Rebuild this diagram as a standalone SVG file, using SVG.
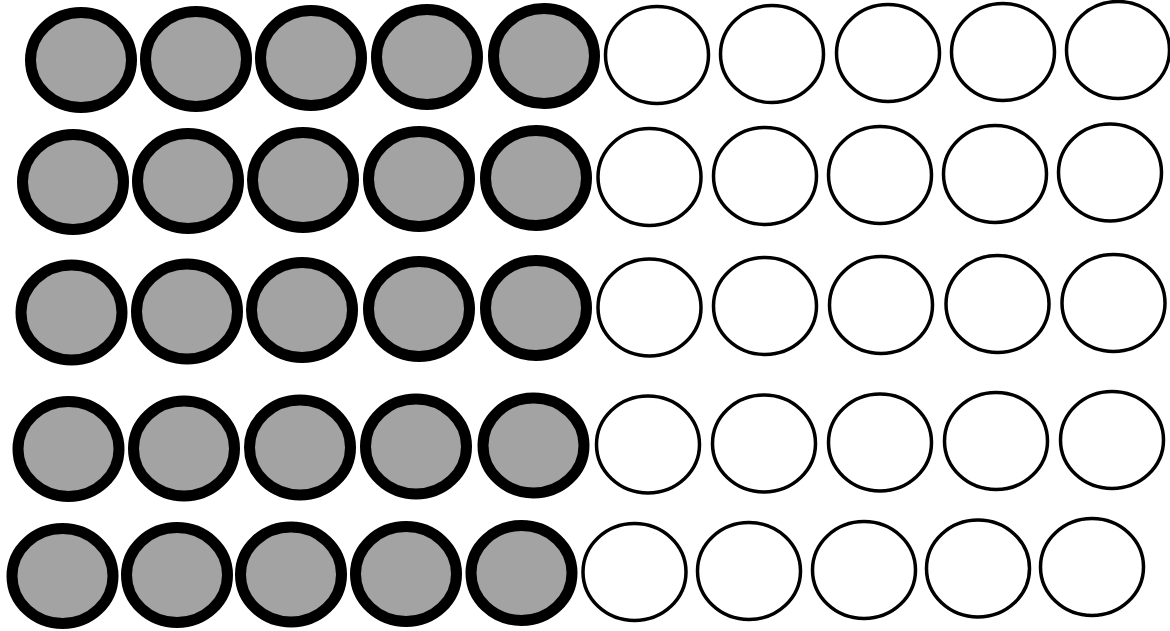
<svg xmlns="http://www.w3.org/2000/svg" width="1170" height="631" viewBox="0 0 1170 631">
<style>
.g{fill:#a3a3a3;stroke:#000;stroke-width:11}
.w{fill:#fff;stroke:#000;stroke-width:3.5}
</style>
<defs>
<ellipse id="gc" class="g" cx="0" cy="0" rx="50.5" ry="47.5"/>
<ellipse id="wc" class="w" cx="0" cy="0" rx="51.5" ry="48.5"/>
</defs>
<rect width="1170" height="631" fill="#fff"/>
<g id="row1">
<g id="r1c1"><use href="#gc" x="81" y="60"/></g>
<g id="r1c2"><use href="#gc" x="196" y="59"/></g>
<g id="r1c3"><use href="#gc" x="311" y="58"/></g>
<g id="r1c4"><use href="#gc" x="427" y="57"/></g>
<g id="r1c5"><use href="#gc" x="544" y="56"/></g>
<g id="r1c6"><use href="#wc" x="657" y="55"/></g>
<g id="r1c7"><use href="#wc" x="772" y="54"/></g>
<g id="r1c8"><use href="#wc" x="888" y="53"/></g>
<g id="r1c9"><use href="#wc" x="1003" y="52"/></g>
<g id="r1c10"><use href="#wc" x="1118" y="50"/></g>
</g>
<g id="row2">
<g id="r2c1"><use href="#gc" x="73" y="182"/></g>
<g id="r2c2"><use href="#gc" x="188" y="181"/></g>
<g id="r2c3"><use href="#gc" x="303" y="180"/></g>
<g id="r2c4"><use href="#gc" x="419" y="179"/></g>
<g id="r2c5"><use href="#gc" x="536" y="178"/></g>
<g id="r2c6"><use href="#wc" x="649.5" y="177"/></g>
<g id="r2c7"><use href="#wc" x="765" y="176"/></g>
<g id="r2c8"><use href="#wc" x="880" y="175"/></g>
<g id="r2c9"><use href="#wc" x="995" y="174"/></g>
<g id="r2c10"><use href="#wc" x="1110" y="172.5"/></g>
</g>
<g id="row3">
<g id="r3c1"><use href="#gc" x="71.5" y="312.5"/></g>
<g id="r3c2"><use href="#gc" x="187" y="311.5"/></g>
<g id="r3c3"><use href="#gc" x="302" y="310"/></g>
<g id="r3c4"><use href="#gc" x="419" y="309"/></g>
<g id="r3c5"><use href="#gc" x="536" y="308"/></g>
<g id="r3c6"><use href="#wc" x="649.5" y="307.5"/></g>
<g id="r3c7"><use href="#wc" x="765" y="306"/></g>
<g id="r3c8"><use href="#wc" x="881" y="305"/></g>
<g id="r3c9"><use href="#wc" x="997.5" y="304"/></g>
<g id="r3c10"><use href="#wc" x="1113.5" y="303"/></g>
</g>
<g id="row4">
<g id="r4c1"><use href="#gc" x="68.5" y="449"/></g>
<g id="r4c2"><use href="#gc" x="184" y="448.5"/></g>
<g id="r4c3"><use href="#gc" x="300" y="447.5"/></g>
<g id="r4c4"><use href="#gc" x="416" y="446.5"/></g>
<g id="r4c5"><use href="#gc" x="533.5" y="445.5"/></g>
<g id="r4c6"><use href="#wc" x="648" y="444.5"/></g>
<g id="r4c7"><use href="#wc" x="764" y="443.5"/></g>
<g id="r4c8"><use href="#wc" x="880" y="442.5"/></g>
<g id="r4c9"><use href="#wc" x="996" y="441"/></g>
<g id="r4c10"><use href="#wc" x="1112" y="440"/></g>
</g>
<g id="row5">
<g id="r5c1"><use href="#gc" x="62.5" y="576"/></g>
<g id="r5c2"><use href="#gc" x="177" y="575"/></g>
<g id="r5c3"><use href="#gc" x="291" y="574.5"/></g>
<g id="r5c4"><use href="#gc" x="406" y="574"/></g>
<g id="r5c5"><use href="#gc" x="521.5" y="573"/></g>
<g id="r5c6"><use href="#wc" x="634.5" y="572"/></g>
<g id="r5c7"><use href="#wc" x="749" y="571"/></g>
<g id="r5c8"><use href="#wc" x="864" y="570"/></g>
<g id="r5c9"><use href="#wc" x="978" y="568.5"/></g>
<g id="r5c10"><use href="#wc" x="1092" y="567"/></g>
</g>
<g id="connectors"/>
</svg>
